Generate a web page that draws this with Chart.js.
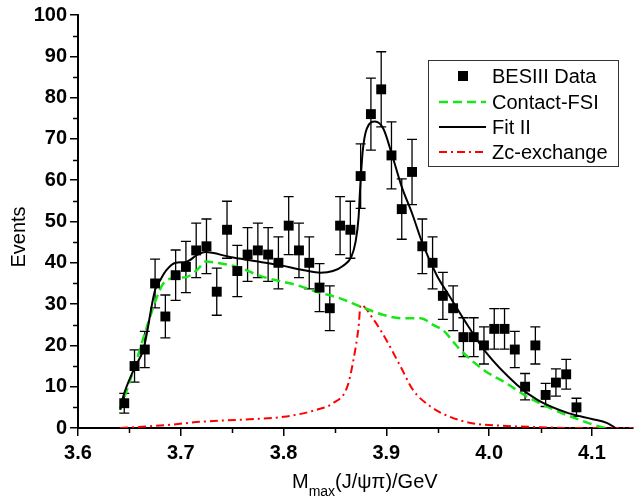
<!DOCTYPE html>
<html>
<head>
<meta charset="utf-8">
<script src="https://cdn.jsdelivr.net/npm/chart.js@4/dist/chart.umd.min.js"></script>
<style>
  html, body { margin: 0; background: #fff; }
</style>
</head>
<body>
<canvas id="chart" width="640" height="500"></canvas>
<script>
// BESIII data points (x in GeV, events, error)
const dataX = [3.645, 3.655, 3.665, 3.675, 3.685, 3.695, 3.705, 3.715, 3.725, 3.735,
  3.745, 3.755, 3.765, 3.775, 3.785, 3.795, 3.805, 3.815, 3.825, 3.835,
  3.845, 3.855, 3.865, 3.875, 3.885, 3.895, 3.905, 3.915, 3.925, 3.935,
  3.945, 3.955, 3.965, 3.975, 3.985, 3.995, 4.005, 4.015, 4.025, 4.035,
  4.045, 4.055, 4.065, 4.075, 4.085];
const dataY = [6, 15, 19, 35, 27, 37, 39, 43, 44, 33,
  48, 38, 42, 43, 42, 40, 49, 43, 40, 34,
  29, 49, 48, 61, 76, 82, 66, 53, 62, 44,
  40, 32, 29, 22, 22, 20, 24, 24, 19, 10,
  20, 8, 11, 13, 5];
const dataErr = [2.4, 3.9, 4.4, 5.9, 5.2, 6.1, 6.2, 6.6, 6.6, 5.7,
  6.9, 6.2, 6.5, 6.6, 6.5, 6.3, 7.0, 6.6, 6.3, 5.8,
  5.4, 7.0, 6.9, 7.8, 8.7, 9.1, 8.1, 7.3, 7.9, 6.6,
  6.3, 5.7, 5.4, 4.7, 4.7, 4.5, 4.9, 4.9, 4.4, 3.2,
  4.5, 2.8, 3.3, 3.6, 2.2];

// Fit II
const fitX = [3.641, 3.644, 3.654, 3.664, 3.675, 3.680, 3.686, 3.695, 3.705, 3.716, 3.724,
  3.748, 3.770, 3.795, 3.820, 3.836, 3.848, 3.858, 3.866, 3.870, 3.873, 3.8745,
  3.877, 3.881, 3.889, 3.897, 3.905, 3.915, 3.925, 3.935, 3.949, 3.960, 3.980,
  3.997, 4.027, 4.047, 4.077, 4.100, 4.115, 4.123];
const fitY = [4.4, 7.6, 14, 19.4, 33.4, 35.8, 38.2, 40, 40.2, 41.9, 42.6,
  41.4, 40.5, 39.5, 38.2, 37.6, 38.0, 39.3, 41.5, 45, 51, 58,
  67, 72.5, 74.2, 72.5, 66.6, 58.4, 52, 44.8, 37, 32.5, 24.5,
  18.3, 10.5, 6.8, 3.6, 2.2, 1.2, 0];

// Contact-FSI
const fsiX = [3.641, 3.654, 3.667, 3.677, 3.683, 3.694, 3.706, 3.716, 3.724, 3.738,
  3.755, 3.780, 3.813, 3.832, 3.855, 3.875, 3.897, 3.914, 3.933, 3.946,
  3.955, 3.972, 3.995, 4.017, 4.037, 4.063, 4.089, 4.108, 4.115];
const fsiY = [4.4, 14, 24.5, 31.8, 35, 36.3, 36.6, 38.3, 40.3, 39.9,
  39, 36.6, 34.6, 33, 31.4, 29.4, 27.4, 26.6, 26.6, 24.9,
  23.7, 18.9, 14, 10.8, 7.6, 4.4, 1.9, 0.3, 0];

// Zc-exchange
const zcX = [3.641, 3.686, 3.719, 3.767, 3.800, 3.832, 3.848, 3.862, 3.868, 3.873,
  3.875, 3.888, 3.900, 3.914, 3.926, 3.943, 3.962, 3.985, 4.017, 4.050, 4.082, 4.140];
const zcY = [0, 0.7, 1.5, 2.1, 2.7, 4.4, 6, 10, 16.5, 24.5,
  29.8, 26.1, 21.3, 14.8, 9.2, 5.2, 2.7, 1.1, 0.5, 0.2, 0, 0];

const FONT = 'Liberation Sans, Arial, sans-serif';
const GREEN = '#19e619';
const RED = '#ff0000';

const xy = (xs, ys) => xs.map((x, i) => ({ x, y: ys[i] }));

const errorBars = {
  id: 'errorBars',
  beforeDatasetsDraw(chart) {
    const { ctx, scales: { x, y } } = chart;
    ctx.save();
    ctx.strokeStyle = '#000';
    ctx.lineWidth = 1.3;
    dataX.forEach((v, i) => {
      const px = x.getPixelForValue(v);
      const top = y.getPixelForValue(dataY[i] + dataErr[i]);
      const bot = y.getPixelForValue(dataY[i] - dataErr[i]);
      ctx.beginPath();
      ctx.moveTo(px, top); ctx.lineTo(px, bot);
      ctx.moveTo(px - 5, top); ctx.lineTo(px + 5, top);
      ctx.moveTo(px - 5, bot); ctx.lineTo(px + 5, bot);
      ctx.stroke();
    });
    ctx.restore();
  }
};

const extras = {
  id: 'extras',
  afterDraw(chart) {
    const { ctx, scales: { x, y }, chartArea } = chart;
    ctx.save();
    // minor ticks
    ctx.strokeStyle = '#000';
    ctx.lineWidth = 1.5;
    ctx.beginPath();
    [3.65, 3.75, 3.85, 3.95, 4.05].forEach(v => {
      const px = Math.round(x.getPixelForValue(v)) + 0.5;
      ctx.moveTo(px, chartArea.bottom); ctx.lineTo(px, chartArea.bottom + 5);
    });
    [5, 15, 25, 35, 45, 55, 65, 75, 85, 95].forEach(v => {
      const py = Math.round(y.getPixelForValue(v)) + 0.5;
      ctx.moveTo(chartArea.left, py); ctx.lineTo(chartArea.left - 5, py);
    });
    ctx.stroke();

    // axis titles
    ctx.fillStyle = '#000';
    ctx.textBaseline = 'alphabetic';
    ctx.textAlign = 'left';
    let tx = 292;
    ctx.font = '20px ' + FONT;
    ctx.fillText('M', tx, 488);
    tx += ctx.measureText('M').width;
    ctx.font = '14px ' + FONT;
    ctx.fillText('max', tx, 496);
    tx += ctx.measureText('max').width;
    ctx.font = '20px ' + FONT;
    ctx.fillText('(J/ψπ)/GeV', tx, 488);

    ctx.save();
    ctx.translate(25, 237);
    ctx.rotate(-Math.PI / 2);
    ctx.textAlign = 'center';
    ctx.fillText('Events', 0, 0);
    ctx.restore();

    // legend
    ctx.fillStyle = '#fff';
    ctx.fillRect(428.5, 60.5, 190, 106);
    ctx.strokeStyle = '#333';
    ctx.lineWidth = 1;
    ctx.strokeRect(428.5, 60.5, 190, 106);
    const rows = [76, 102, 127, 152];
    ctx.fillStyle = '#000';
    ctx.fillRect(458, 71, 10, 10);
    const lineSample = (yy, color, dash, w) => {
      ctx.beginPath();
      ctx.strokeStyle = color;
      ctx.lineWidth = w;
      ctx.setLineDash(dash);
      ctx.moveTo(439, yy); ctx.lineTo(486, yy);
      ctx.stroke();
      ctx.setLineDash([]);
    };
    lineSample(rows[1], GREEN, [9, 5], 2.5);
    lineSample(rows[2], '#000', [], 2);
    lineSample(rows[3], RED, [8, 4, 2, 4], 2);
    ctx.fillStyle = '#000';
    ctx.font = '20px ' + FONT;
    ctx.textBaseline = 'middle';
    ['BESIII Data', 'Contact-FSI', 'Fit II', 'Zc-exchange'].forEach((t, i) => {
      ctx.fillText(t, 492, rows[i] + 1);
    });
    ctx.restore();
  }
};

const tickFont = { family: FONT, size: 20, weight: 'bold' };

new Chart(document.getElementById('chart'), {
  type: 'scatter',
  data: {
    datasets: [
      {
        label: 'BESIII Data',
        data: xy(dataX, dataY),
        pointStyle: 'rect',
        pointRadius: 7,
        backgroundColor: '#000',
        borderColor: '#000',
        borderWidth: 0,
        showLine: false,
        order: 1
      },
      {
        label: 'Fit II',
        data: xy(fitX, fitY),
        showLine: true,
        borderColor: '#000',
        borderWidth: 2,
        pointRadius: 0,
        cubicInterpolationMode: 'monotone',
        order: 0
      },
      {
        label: 'Contact-FSI',
        data: xy(fsiX, fsiY),
        showLine: true,
        borderColor: GREEN,
        borderWidth: 2.5,
        borderDash: [9, 5],
        pointRadius: 0,
        cubicInterpolationMode: 'monotone',
        order: 2
      },
      {
        label: 'Zc-exchange',
        data: xy(zcX, zcY),
        showLine: true,
        borderColor: RED,
        borderWidth: 2,
        borderDash: [8, 4, 2, 4],
        pointRadius: 0,
        cubicInterpolationMode: 'monotone',
        order: 3
      }
    ]
  },
  options: {
    responsive: false,
    animation: false,
    devicePixelRatio: 1,
    layout: { padding: { top: 15, right: 7, left: 0, bottom: 0 } },
    plugins: {
      legend: { display: false },
      tooltip: { enabled: false }
    },
    scales: {
      x: {
        type: 'linear',
        min: 3.6,
        max: 4.14,
        afterFit: s => { s.height = 72; },
        ticks: {
          stepSize: 0.1,
          includeBounds: false,
          autoSkip: false,
          maxRotation: 0,
          padding: 5,
          color: '#000',
          font: tickFont,
          callback: v => v.toFixed(1)
        },
        grid: { drawOnChartArea: false, drawTicks: true, tickLength: 8, color: '#000', lineWidth: 1.5 },
        border: { color: '#000', width: 2 }
      },
      y: {
        min: 0,
        max: 100,
        afterFit: s => { s.width = 78; },
        ticks: {
          stepSize: 10,
          padding: 3,
          color: '#000',
          font: tickFont
        },
        grid: { drawOnChartArea: false, drawTicks: true, tickLength: 8, color: '#000', lineWidth: 1.5 },
        border: { color: '#000', width: 2 }
      }
    }
  },
  plugins: [errorBars, extras]
});
</script>
</body>
</html>
